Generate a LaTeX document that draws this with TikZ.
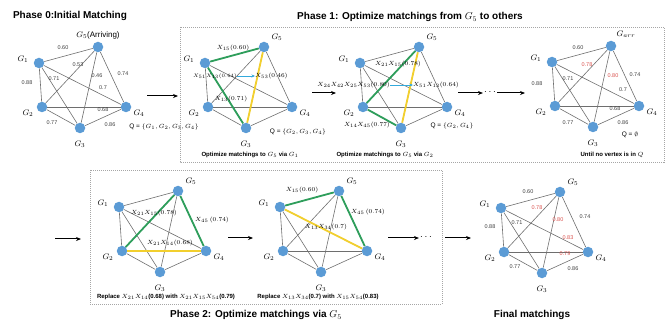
\documentclass[tikz,border=0pt]{standalone}
\usepackage{amssymb}
\usepackage{fontspec}
\setmainfont{Liberation Sans}
\usetikzlibrary{arrows.meta,calc,positioning}
\definecolor{vertexblue}{HTML}{5B9BD5}
\definecolor{matchgreen}{HTML}{2E9E5B}
\definecolor{matchyellow}{HTML}{F2CF2E}
\definecolor{swapcyan}{HTML}{34AADC}
\definecolor{newred}{HTML}{D9534F}
\definecolor{edgegray}{HTML}{6E6E6E}
\definecolor{boxgray}{HTML}{A6A6A6}
% five vertices of one panel: prefix, place of G1, label of G5, offset of that label
\newcommand{\pentagon}[4]{%
  \node[vtx] (#1g1) at (#2) {};
  \node[vtx] (#1g5) at ($(#1g1)+(59,-16)$) {};
  \node[vtx] (#1g2) at ($(#1g1)+(3,44)$) {};
  \node[vtx] (#1g3) at ($(#1g1)+(41,65)$) {};
  \node[vtx] (#1g4) at ($(#1g1)+(87,44)$) {};
  \node[glbl] (#1l1) at ($(#1g1)+(-16,-4)$) {$G_1$};
  \node[glbl] (#1l2) at ($(#1g2)+(-14,6)$) {$G_2$};
  \node[glbl] (#1l3) at ($(#1g3)+(0,16)$) {$G_3$};
  \node[glbl] (#1l4) at ($(#1g4)+(13,6)$) {$G_4$};
  \node[glbl] (#1l5) at ($(#1g5)+(#4)$) {#3};
  \foreach \a/\b in {1/2,1/3,1/4,1/5,2/3,2/4,2/5,3/4,3/5,4/5}
    \draw[kedge] (#1g\a) -- (#1g\b);
}

\begin{document}
\begin{tikzpicture}[x=1pt, y=-1pt, font=\fontsize{6}{7}\selectfont]
  \tikzset{
    vtx/.style={circle, fill=vertexblue, inner sep=0pt, minimum size=10.5pt},
    glbl/.style={inner sep=0pt, font=\fontsize{8}{9}\selectfont},
    kedge/.style={draw=edgegray, line width=0.6pt},
    elbl/.style={inner sep=0pt, text=black!75, font=\fontsize{5.5}{6}\selectfont},
    xlbl/.style={inner sep=0pt, font=\fontsize{6.5}{7}\selectfont},
    greenmatch/.style={draw=matchgreen, line width=1.8pt},
    yellowmatch/.style={draw=matchyellow, line width=1.8pt},
    swaparrow/.style={-{Stealth[length=3.5pt,width=3pt]}, swapcyan, line width=0.9pt},
    flow/.style={-{Stealth[length=5pt,width=4pt]}, line width=1pt},
    phasebox/.style={draw=boxgray, dash pattern=on 1pt off 1pt, line width=0.5pt},
    phasetitle/.style={inner sep=0pt, font=\bfseries\fontsize{10}{12}\selectfont},
    panelcap/.style={inner sep=0pt, font=\bfseries\fontsize{6}{7}\selectfont},
    qset/.style={inner sep=0pt, font=\fontsize{6.5}{7}\selectfont},
    dotsgap/.style={inner sep=0pt, font=\fontsize{10}{11}\selectfont}
  }
  \useasboundingbox (0,0) rectangle (672,323);

  % Phase 0
  \node[phasetitle] (t0) at (70,16) {Phase 0:Initial Matching};
  \pentagon{p0}{39,63}{$G_5$(Arriving)}{0,-12}
  \node[elbl] (p0e15) at ($(p0g1)+(24,-15)$) {0.60};
  \node[elbl] (p0e25) at ($(p0g1)+(39,2)$) {0.53};
  \node[elbl] (p0e13) at ($(p0g1)+(15,16)$) {0.71};
  \node[elbl] (p0e35) at ($(p0g1)+(58,13)$) {0.46};
  \node[elbl] (p0e45) at ($(p0g1)+(84,11)$) {0.74};
  \node[elbl] (p0e14) at ($(p0g1)+(64,25)$) {0.7};
  \node[elbl] (p0e12) at ($(p0g1)+(-12,20)$) {0.88};
  \node[elbl] (p0e24) at ($(p0g1)+(64,47)$) {0.68};
  \node[elbl] (p0e23) at ($(p0g1)+(13,60)$) {0.77};
  \node[elbl] (p0e34) at ($(p0g1)+(71,62)$) {0.86};
  \node[qset] (q0) at (164,127) {Q = $\{G_1,G_2,G_3,G_4\}$};
  \coordinate (a0s) at (147,96);
  \coordinate (a0e) at (178,96);
  \draw[flow] (a0s) -- (a0e);

  % Phase 1
  \draw[phasebox] (180,27) rectangle (664,162);
  \node[phasetitle] (t1) at (410,17) {Phase 1: Optimize matchings from $G_5$ to others};

  \pentagon{p1}{205,63}{$G_5$}{13,-10}
  \draw[greenmatch] (p1g1) -- (p1g5);
  \draw[greenmatch] (p1g1) -- (p1g3);
  \draw[yellowmatch] (p1g5) -- (p1g3);
  \node[xlbl] (p1x15) at ($(p1g1)+(28,-15)$) {$X_{15}(0.60)$};
  \node[xlbl, anchor=east, font=\fontsize{5}{6}\selectfont] (p1old) at ($(p1g1)+(32,13)$) {$X_{51}X_{13}(0.64)$};
  \node[xlbl, anchor=west] (p1new) at ($(p1g1)+(50,13)$) {$X_{53}(0.46)$};
  \draw[swaparrow] (p1old) -- (p1new);
  \node[xlbl] (p1x13) at ($(p1g1)+(26,36)$) {$X_{13}(0.71)$};
  \node[qset] (q1) at (298,132) {Q = $\{G_2,G_3,G_4\}$};
  \node[panelcap] (c1) at (250,155) {Optimize matchings to $G_5$ via $G_1$};
  \coordinate (a1s) at (312,93);
  \coordinate (a1e) at (336,93);
  \draw[flow] (a1s) -- (a1e);

  \pentagon{p2}{360,63}{$G_5$}{13,-10}
  \draw[greenmatch] (p2g5) -- (p2g2);
  \draw[greenmatch] (p2g2) -- (p2g3);
  \draw[yellowmatch] (p2g5) -- (p2g3);
  \node[xlbl] (p2x25) at ($(p2g1)+(38,1)$) {$X_{21}X_{15}(0.78)$};
  \node[xlbl, anchor=east] (p2old) at ($(p2g1)+(30,22)$) {$X_{24}X_{42}X_{25}X_{53}(0.80)$};
  \node[xlbl, anchor=west] (p2new) at ($(p2g1)+(53,22)$) {$X_{51}X_{13}(0.64)$};
  \draw[swaparrow] (p2old) -- (p2new);
  \node[xlbl] (p2x23) at ($(p2g1)+(7,62)$) {$X_{14}X_{45}(0.77)$};
  \node[qset] (q2) at (452,126) {Q = $\{G_2,G_4\}$};
  \node[panelcap] (c2) at (385,155) {Optimize matchings to $G_5$ via $G_2$};
  \coordinate (a2s) at (458,93);
  \node[dotsgap] (dots1) at (490,92) {$\cdots$};
  \coordinate (a3e) at (525,93);
  \draw[flow] (a2s) -- ($(a2s -| dots1.west)+(-1,0)$);
  \draw[flow] ($(a3e -| dots1.east)+(1,0)$) -- (a3e);

  \pentagon{p3}{552,62}{$G_{arr}$}{15,-12}
  \node[elbl] (p3e15) at ($(p3g1)+(26,-14)$) {0.60};
  \node[elbl, text=newred] (p3e25) at ($(p3g1)+(35,3)$) {0.78};
  \node[elbl, text=newred] (p3e35) at ($(p3g1)+(61,14)$) {0.80};
  \node[elbl] (p3e45) at ($(p3g1)+(83,13)$) {0.74};
  \node[elbl] (p3e12) at ($(p3g1)+(-15,22)$) {0.88};
  \node[elbl] (p3e13) at ($(p3g1)+(16,17)$) {0.71};
  \node[elbl] (p3e14) at ($(p3g1)+(71,28)$) {0.7};
  \node[elbl] (p3e24) at ($(p3g1)+(63,47)$) {0.68};
  \node[elbl] (p3e23) at ($(p3g1)+(16,61)$) {0.77};
  \node[elbl] (p3e34) at ($(p3g1)+(71,61)$) {0.86};
  \node[qset] (q3) at (630,135) {Q = $\emptyset$};
  \node[panelcap] (c3) at (612,155) {Until no vertex is in $Q$};

  % Phase 2
  \draw[phasebox] (90,170) rectangle (442,304);
  \node[phasetitle] (t2) at (256,315) {Phase 2: Optimize matchings via $G_5$};
  \coordinate (a4s) at (55,239);
  \coordinate (a4e) at (81,239);
  \draw[flow] (a4s) -- (a4e);

  \pentagon{p4}{119,207}{$G_5$}{13,-10}
  \draw[greenmatch] (p4g2) -- (p4g5);
  \draw[greenmatch] (p4g5) -- (p4g4);
  \draw[yellowmatch] (p4g2) -- (p4g4);
  \node[xlbl] (p4x25) at ($(p4g1)+(35,6)$) {$X_{21}X_{15}(0.78)$};
  \node[xlbl] (p4x45) at ($(p4g1)+(93,13)$) {$X_{45}\,(0.74)$};
  \node[xlbl] (p4x24) at ($(p4g1)+(51,36)$) {$X_{21}X_{14}(0.68)$};
  \node[panelcap] (c4) at (166,297) {Replace $X_{21}X_{14}$(0.68) with $X_{21}X_{15}X_{54}$(0.79)};
  \coordinate (a5s) at (228,238);
  \coordinate (a5e) at (253,238);
  \draw[flow] (a5s) -- (a5e);

  \pentagon{p5}{280,207}{$G_5$}{13,-10}
  \draw[greenmatch] (p5g1) -- (p5g5);
  \draw[greenmatch] (p5g5) -- (p5g4);
  \draw[yellowmatch] (p5g1) -- (p5g4);
  \node[xlbl] (p5x15) at ($(p5g1)+(22,-17)$) {$X_{15}(0.60)$};
  \node[xlbl] (p5x45) at ($(p5g1)+(88,5)$) {$X_{45}\,(0.74)$};
  \node[xlbl] (p5x14) at ($(p5g1)+(46,20)$) {$X_{13}X_{34}(0.7)$};
  \node[panelcap] (c5) at (318,297) {Replace $X_{13}X_{34}$(0.7) with $X_{15}X_{54}$(0.83)};
  \coordinate (a6s) at (388,238);
  \node[dotsgap] (dots2) at (426,237) {$\cdots$};
  \coordinate (a7s) at (445,238);
  \coordinate (a7e) at (471,238);
  \draw[flow] (a6s) -- ($(a6s -| dots2.west)+(-1,0)$);
  \draw[flow] (a7s) -- (a7e);

  % Final matchings
  \pentagon{p6}{501,208}{$G_5$}{13,-10}
  \node[elbl] (p6e15) at ($(p6g1)+(27,-16)$) {0.60};
  \node[elbl, text=newred] (p6e25) at ($(p6g1)+(36,0)$) {0.78};
  \node[elbl, text=newred] (p6e35) at ($(p6g1)+(57,12)$) {0.80};
  \node[elbl] (p6e45) at ($(p6g1)+(84,9)$) {0.74};
  \node[elbl] (p6e12) at ($(p6g1)+(-11,19)$) {0.88};
  \node[elbl] (p6e13) at ($(p6g1)+(16,15)$) {0.71};
  \node[elbl, text=newred] (p6e14) at ($(p6g1)+(67,30)$) {0.83};
  \node[elbl, text=newred] (p6e24) at ($(p6g1)+(64,46)$) {0.79};
  \node[elbl] (p6e23) at ($(p6g1)+(14,59)$) {0.77};
  \node[elbl] (p6e34) at ($(p6g1)+(72,61)$) {0.86};
  \node[phasetitle] (t3) at (532,315) {Final matchings};
\end{tikzpicture}
\end{document}
